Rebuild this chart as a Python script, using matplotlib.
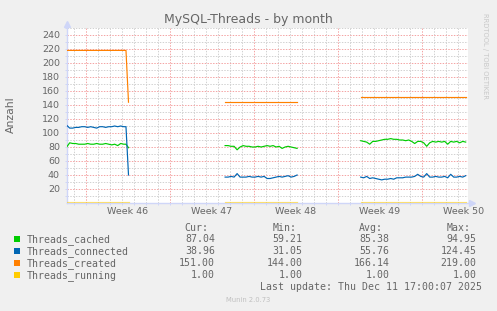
import numpy as np
import matplotlib
matplotlib.use("Agg")
import matplotlib.pyplot as plt
from matplotlib.patches import Rectangle

# ---------------- data ----------------
title = "MySQL-Threads - by month"
ylabel = "Anzahl"
week_labels = ["Week 46", "Week 47", "Week 48", "Week 49", "Week 50"]

# time in days from left edge of graph
seg1_t = [0.00, 0.25, 0.50, 0.75, 1.00, 1.25, 1.50, 1.75, 2.00, 2.25, 2.50,
          2.75, 3.00, 3.25, 3.50, 3.75, 4.00, 4.25, 4.50, 4.75, 4.94, 5.15]
seg2_t = [13.20, 13.45, 13.70, 13.95, 14.20, 14.45, 14.70, 14.95, 15.20, 15.45,
          15.70, 15.95, 16.20, 16.45, 16.70, 16.95, 17.20, 17.45, 17.70, 17.95,
          18.20, 18.45, 18.70, 18.95, 19.20]
seg3_t = [24.50, 24.75, 25.00, 25.25, 25.50, 25.75, 26.00, 26.25, 26.50, 26.75,
          27.00, 27.25, 27.50, 27.75, 28.00, 28.25, 28.50, 28.75, 29.00, 29.25,
          29.50, 29.75, 30.00, 30.25, 30.50, 30.75, 31.00, 31.25, 31.50, 31.75,
          32.00, 32.25, 32.50, 32.75, 33.00, 33.25]

cached1 = [80, 86, 85, 85, 84, 84, 84, 85, 84, 84, 85, 84, 84, 85, 84, 83,
           84, 82, 85, 84, 84, 79]
cached2 = [82, 82, 81, 81, 76, 80, 82, 81, 81, 80, 80, 81, 80, 81, 82, 81,
           82, 80, 81, 78, 80, 81, 80, 79, 78]
cached3 = [89, 88, 87, 84, 88, 88, 89, 90, 91, 91, 92, 91, 91, 90, 90, 89,
           90, 88, 85, 88, 88, 86, 81, 86, 88, 87, 88, 87, 88, 84, 88, 87,
           88, 86, 88, 87]

connected1 = [111, 107, 107, 108, 108, 109, 109, 108, 109, 108, 107, 109,
              109, 108, 109, 109, 110, 109, 110, 109, 109, 40]
connected2 = [37, 37, 38, 37, 42, 37, 37, 37, 38, 37, 37, 38, 37, 38, 35,
              35, 36, 37, 38, 37, 38, 39, 37, 38, 40]
connected3 = [37, 36, 38, 35, 36, 35, 34, 33, 34, 34, 35, 34, 36, 36, 36,
              37, 37, 37, 38, 41, 38, 37, 42, 37, 37, 38, 37, 37, 38, 36,
              41, 37, 37, 38, 37, 39]

created1 = [218, 218, 218, 218, 218, 218, 218, 218, 218, 218, 218, 218,
            218, 218, 218, 218, 218, 218, 218, 218, 218, 144]
created2 = [144] * 25
created3 = [151] * 36

running1 = [1.0] * 22
running2 = [1.0] * 25
running3 = [1.0] * 36

series_names = ["Threads_cached", "Threads_connected", "Threads_created", "Threads_running"]
series_colors = ["#00CC00", "#0066B3", "#FF8000", "#FFCC00"]
cur_vals = ["87.04", "38.96", "151.00", "1.00"]
min_vals = ["59.21", "31.05", "144.00", "1.00"]
avg_vals = ["85.38", "55.76", "166.14", "1.00"]
max_vals = ["94.95", "124.45", "219.00", "1.00"]
last_update = "Last update: Thu Dec 11 17:00:07 2025"
munin_ver = "Munin 2.0.73"
rrd_credit = "RRDTOOL / TOBI OETIKER"

# ---------------- figure ----------------
W, H = 497, 311
FONT = "#666666"
fig = plt.figure(figsize=(W / 100, H / 100), dpi=100, facecolor="#F0F0F0")

def fx(x):
    return x / W

def fy(y):
    return 1 - y / H

x0, x1, y0, y1 = 66.7, 468.0, 28.0, 203.0
ax = fig.add_axes([fx(x0), fy(y1), (x1 - x0) / W, (y1 - y0) / H])
ax.set_facecolor("white")
XMAX = (x1 - x0) / 12.0
ax.set_xlim(0, XMAX)
ax.set_ylim(0, 250)
for s in ax.spines.values():
    s.set_visible(False)

# grid (dotted, 1px on / 1px off)
px = 0.72
GRID_MIN = "#D2D2D2"
GRID_MAJ = "#F4A4A4"
t0 = 1.58
for k in range(-1, 33):
    t = t0 + k
    if 0 < t < XMAX:
        major = (k % 7 == 0)
        ax.axvline(t, color=GRID_MAJ if major else GRID_MIN, lw=px,
                   dashes=(1.4, 1.4), zorder=1)
for v in range(10, 251, 10):
    major = (v % 20 == 0)
    ax.axhline(v, color=GRID_MAJ if major else GRID_MIN, lw=px,
               dashes=(1.4, 1.4), zorder=1)

# axis lines + arrows
AX = "#CFD6F8"
ax.plot([0, 0], [0, 1.0], transform=ax.transAxes, color=AX, lw=1.0,
        clip_on=False, zorder=3)
ax.plot([0, 1.0], [0, 0], transform=ax.transAxes, color=AX, lw=1.0,
        clip_on=False, zorder=3)
ax.plot([0], [1.022], transform=ax.transAxes, marker="^", ms=5, color=AX,
        clip_on=False, zorder=3)
ax.plot([1.009], [0], transform=ax.transAxes, marker=">", ms=5, color=AX,
        clip_on=False, zorder=3)

# data
for ts, vs, col in [(seg1_t, cached1, series_colors[0]), (seg2_t, cached2, series_colors[0]),
                    (seg3_t, cached3, series_colors[0]),
                    (seg1_t, connected1, series_colors[1]), (seg2_t, connected2, series_colors[1]),
                    (seg3_t, connected3, series_colors[1]),
                    (seg1_t, created1, series_colors[2]), (seg2_t, created2, series_colors[2]),
                    (seg3_t, created3, series_colors[2])]:
    ax.plot(ts, vs, color=col, lw=0.85, zorder=4, solid_joinstyle="round")
for ts, vs in [(seg1_t, running1), (seg2_t, running2), (seg3_t, running3)]:
    ax.plot(ts, vs, color=series_colors[3], lw=0.85, alpha=0.55, zorder=4)

# ticks
ax.set_yticks(range(20, 241, 20))
ax.set_yticks(range(10, 251, 10), minor=True)
ax.set_xticks([t0 + 3.5 + 7 * k for k in range(5)])
ax.set_xticklabels(week_labels)
ax.set_xticks([t0 + k for k in range(-1, 32) if 0 < t0 + k < XMAX], minor=True)
ax.tick_params(axis="y", which="major", length=2 * px, width=px, color=AX,
               pad=3.4, labelsize=6.8, labelcolor=FONT)
ax.tick_params(axis="y", which="minor", length=2 * px, width=px, color=AX)
ax.tick_params(axis="x", which="major", length=0, pad=3.0, labelsize=6.8,
               labelcolor=FONT)
ax.tick_params(axis="x", which="minor", length=2 * px, width=px, color=AX,
               direction="out")

# texts
fig.text(fx(248), fy(19.3), title, ha="center", va="center", fontsize=9,
         color=FONT, family="DejaVu Sans")
fig.text(fx(11), fy(114.5), ylabel, ha="center", va="center", rotation=90,
         fontsize=7.8, color=FONT)
fig.text(fx(485.5), fy(56), rrd_credit, ha="center", va="center", rotation=270,
         fontsize=4.9, color="#C8C8C8")
fig.text(fx(247.7), fy(300), munin_ver, ha="center", va="center",
         fontsize=4.9, color="#C0C0C0")

MONO = "DejaVu Sans Mono"
MS = 7.1
cols_right = [215, 302.7, 389.3, 476.7]
headers = ["Cur:", "Min:", "Avg:", "Max:"]
for xr, hd in zip(cols_right, headers):
    fig.text(fx(xr - 6.5), fy(228.3), hd, ha="right", va="center",
             fontsize=MS, family=MONO, color=FONT)
row_y = [239.3, 251.3, 263.3, 275.3]
for i, name in enumerate(series_names):
    yy = row_y[i]
    fig.add_artist(Rectangle((fx(14), fy(yy + 3)), 6 / W, 6 / H,
                             transform=fig.transFigure, color=series_colors[i], lw=0))
    fig.text(fx(26.3), fy(yy), name, ha="left", va="center", fontsize=MS,
             family=MONO, color=FONT)
    for xr, vals in zip(cols_right, [cur_vals, min_vals, avg_vals, max_vals]):
        fig.text(fx(xr), fy(yy), vals[i], ha="right", va="center", fontsize=MS,
                 family=MONO, color=FONT)
fig.text(fx(482.3), fy(287.3), last_update, ha="right", va="center",
         fontsize=MS, family=MONO, color=FONT)

fig.savefig("out.png", dpi=100, facecolor=fig.get_facecolor())
